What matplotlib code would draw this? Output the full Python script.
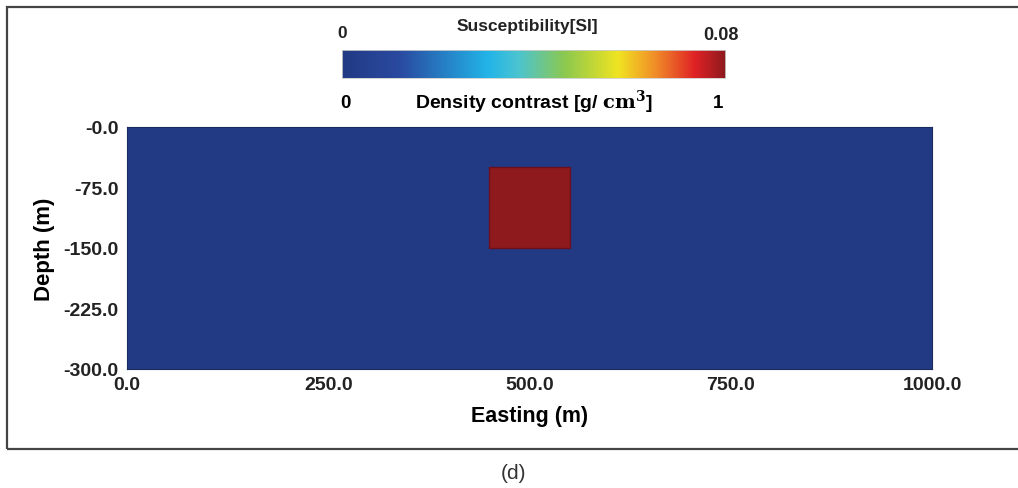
import numpy as np
import matplotlib.pyplot as plt
from matplotlib.colors import LinearSegmentedColormap
from matplotlib.patches import Rectangle

# Model mesh (m) and the anomalous block
easting_edges = [0, 250, 450, 550, 750, 1000]
depth_edges = [0, 50, 150, 225, 300]
block_easting = [450, 550]
block_depth = [50, 150]
block_density = 1.0
background_density = 0.0

# colour scale labels
sus_range = ['0', '0.08']
dens_range = ['0', '1']
x_ticks = [0, 250, 500, 750, 1000]
y_ticks = [0, -75, -150, -225, -300]

# muted jet, as in the figure
cmap = LinearSegmentedColormap.from_list('mjet', [
    (0.00, '#223a84'), (0.15, '#2a4aa0'), (0.38, '#22b4e8'), (0.46, '#4cc4d0'),
    (0.58, '#8cc850'), (0.72, '#f0e422'), (0.82, '#f08a28'), (0.92, '#e02226'),
    (1.00, '#8e1a1e')])

plt.rcParams['font.family'] = ['Liberation Sans', 'DejaVu Sans']

# build the density grid from the block definition
xe = np.array(easting_edges)
ze = np.array(depth_edges)
xc = (xe[:-1] + xe[1:]) / 2
zc = (ze[:-1] + ze[1:]) / 2
inside = ((xc[None, :] > block_easting[0]) & (xc[None, :] < block_easting[1]) &
          (zc[:, None] > block_depth[0]) & (zc[:, None] < block_depth[1]))
grid = np.where(inside, block_density, background_density)

fig = plt.figure(figsize=(10.18, 4.89), dpi=100)

# outer frame
fig.patches.append(Rectangle((7 / 1018, 1 - 450 / 489), 1.1, (450 - 8) / 489,
                             transform=fig.transFigure, fill=False,
                             edgecolor='#444444', lw=1.6))

ax = fig.add_axes([127 / 1018, 1 - 370 / 489, 805 / 1018, 242 / 489])
ax.pcolormesh(xe, -ze, grid, cmap=cmap, vmin=0, vmax=1)
ax.add_patch(Rectangle((block_easting[0], -block_depth[1]),
                       block_easting[1] - block_easting[0],
                       block_depth[1] - block_depth[0],
                       fill=False, edgecolor='#6a1020', lw=1.0))
ax.set_xlim(0, 1000)
ax.set_ylim(-300, 0)
ax.set_xticks(x_ticks)
ax.set_xticklabels([f'{v:.1f}' for v in x_ticks])
ax.set_yticks(y_ticks)
ax.set_yticklabels(['-0.0'] + [f'{v:.1f}' for v in y_ticks[1:]])
ax.tick_params(length=0, labelsize=14, pad=6)
ax.tick_params(axis='x', pad=5)
for lab in ax.get_xticklabels() + ax.get_yticklabels():
    lab.set_fontweight('bold')
    lab.set_color('#222222')
for s in ax.spines.values():
    s.set_color('#1a2a5a')
    s.set_linewidth(0.8)
ax.set_xlabel('Easting (m)', fontsize=15.5, fontweight='bold', labelpad=9)
ax.set_ylabel('Depth (m)', fontsize=16, fontweight='bold', labelpad=6)

# colour bar
cax = fig.add_axes([342 / 1018, 1 - 79 / 489, 383 / 1018, 28 / 489])
cax.imshow(np.linspace(0, 1, 256)[None, :], aspect='auto', cmap=cmap,
           extent=[0, 1, 0, 1])
cax.set_xticks([])
cax.set_yticks([])
for s in cax.spines.values():
    s.set_color('#cccccc')
    s.set_linewidth(0.6)

fig.text(527 / 1018, 1 - 27 / 489, 'Susceptibility[SI]', ha='center', va='center',
         fontsize=12.5, fontweight='bold', color='#222222')
fig.text(342 / 1018, 1 - 33 / 489, sus_range[0], ha='center', va='center',
         fontsize=12.5, fontweight='bold', color='#222222')
fig.text(721 / 1018, 1 - 35 / 489, sus_range[1], ha='center', va='center',
         fontsize=13, fontweight='bold', color='#222222')
fig.text(345 / 1018, 1 - 104 / 489, dens_range[0], ha='center', va='center',
         fontsize=13.5, fontweight='bold')
fig.text(718 / 1018, 1 - 104 / 489, dens_range[1], ha='center', va='center',
         fontsize=13.5, fontweight='bold')
fig.text(534 / 1018, 1 - 102 / 489, r'Density contrast [g/ $\mathbf{cm^3}$]',
         ha='center', va='center', fontsize=14, fontweight='bold',
         math_fontfamily='dejavuserif')

fig.text(513 / 1018, 1 - 474 / 489, '(d)', ha='center', va='center',
         fontsize=15, color='#333333')

fig.savefig('out.png', dpi=100)
